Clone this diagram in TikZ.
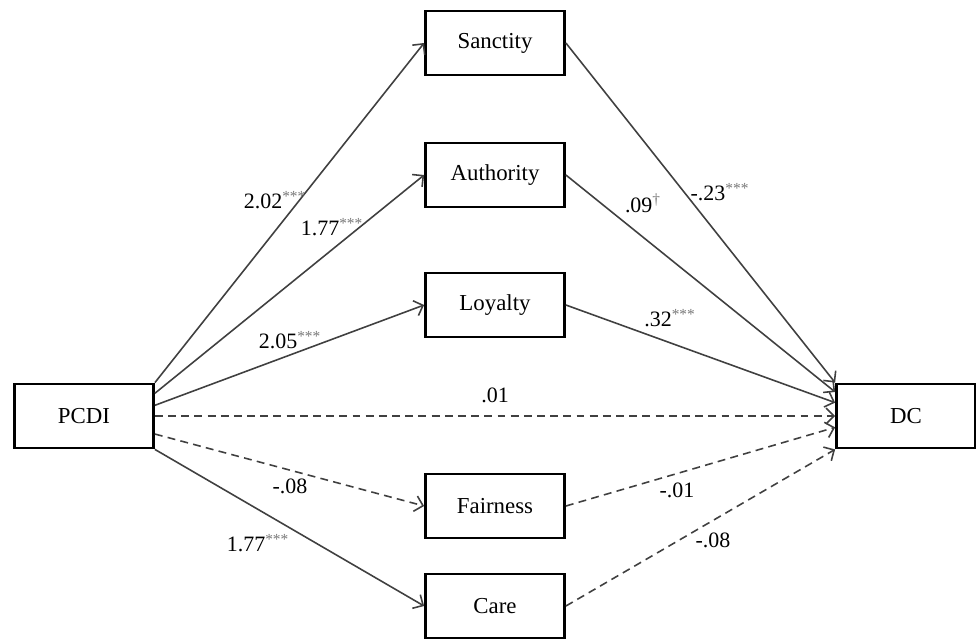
\documentclass[tikz,border=0pt]{standalone}
\usepackage{fontspec}
\setmainfont{Liberation Serif}
\usetikzlibrary{arrows.meta,calc}
\definecolor{linegray}{RGB}{64,64,64}
\definecolor{stargray}{RGB}{120,120,120}
\newcommand{\stars}{\textsuperscript{\textcolor{stargray}{***}}}
\newcommand{\trend}{\textsuperscript{\textcolor{stargray}{\textdagger}}}

\begin{document}
\begin{tikzpicture}[x=0.02cm,y=-0.02cm,
    every node/.style={font=\fontsize{12.5}{14}\selectfont},
    var/.style={draw=black,line width=1.6pt,minimum width=2.78cm,minimum height=1.28cm,inner sep=0pt,font=\fontsize{13}{15}\selectfont},
    sigline/.style={draw=linegray,line width=0.9pt,-{Straight Barb[length=4.5pt,width=9pt]}},
    nsline/.style={sigline,dash pattern=on 4.5pt off 3pt}]
  \useasboundingbox (0,0) rectangle (976,639);
  % variables
  \node[var] (PCDI) at (84,416) {PCDI};
  \node[var] (DC) at (906,416) {DC};
  \node[var] (san) at (495,43) {Sanctity};
  \node[var] (aut) at (495,175) {Authority};
  \node[var] (loy) at (495,305) {Loyalty};
  \node[var] (fai) at (495,506) {Fairness};
  \node[var] (car) at (495,606) {Care};
  % attach points on the sides of PCDI and DC
  \coordinate (p2) at ($(PCDI.north east)!0.16!(PCDI.south east)$);
  \coordinate (p3) at ($(PCDI.north east)!0.34!(PCDI.south east)$);
  \coordinate (p5) at ($(PCDI.north east)!0.77!(PCDI.south east)$);
  \coordinate (d2) at ($(DC.north west)!0.14!(DC.south west)$);
  \coordinate (d3) at ($(DC.north west)!0.30!(DC.south west)$);
  \coordinate (d5) at ($(DC.north west)!0.67!(DC.south west)$);
  % paths
  \draw[sigline] (PCDI.north east) -- (san.west);
  \draw[sigline] (p2) -- (aut.west);
  \draw[sigline] (p3) -- (loy.west);
  \draw[nsline] (PCDI.east) -- (DC.west);
  \draw[nsline] (p5) -- (fai.west);
  \draw[sigline] (PCDI.south east) -- (car.west);
  \draw[sigline] (san.east) -- (DC.north west);
  \draw[sigline] (aut.east) -- (d2);
  \draw[sigline] (loy.east) -- (d3);
  \draw[nsline] (fai.east) -- (d5);
  \draw[nsline] (car.east) -- (DC.south west);
  % coefficients
  \node (a1) at (275,200) {2.02\stars};
  \node (a2) at (332,227) {1.77\stars};
  \node (a3) at (290,340) {2.05\stars};
  \node (c0) at (495,395) {.01};
  \node (a5) at (290,486) {-.08};
  \node (a6) at (258,543) {1.77\stars};
  \node (b1) at (720,192) {-.23\stars};
  \node (b2) at (643,203) {.09\trend};
  \node (b3) at (670,318) {.32\stars};
  \node (b5) at (677,490) {-.01};
  \node (b6) at (713,540) {-.08};
\end{tikzpicture}
\end{document}
